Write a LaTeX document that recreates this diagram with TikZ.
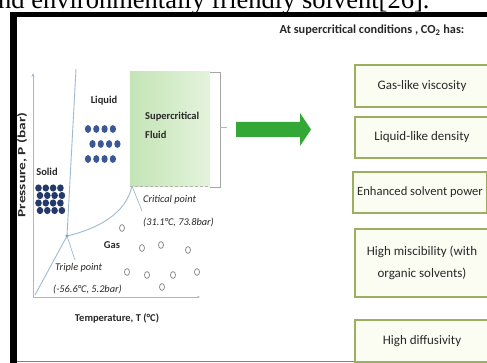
\documentclass[tikz,border=0pt]{standalone}
\usepackage{fontspec}
\setmainfont{Carlito}
\newfontfamily\serifpaper{Liberation Serif}
\usetikzlibrary{arrows.meta}
\definecolor{axiscol}{RGB}{160,186,206}
\definecolor{txt}{RGB}{40,40,40}
\definecolor{liqdot}{RGB}{58,88,150}
\definecolor{soldot}{RGB}{36,56,106}
\definecolor{gascol}{RGB}{140,140,140}
\definecolor{scfL}{RGB}{196,228,182}
\definecolor{scfR}{RGB}{228,243,220}
\definecolor{arrgreen}{RGB}{52,168,54}
\definecolor{boxedge}{RGB}{155,175,95}
\definecolor{boxfill}{RGB}{252,253,242}
\begin{document}
\begin{tikzpicture}[x=1pt,y=-1pt,
  axisline/.style={draw=axiscol, line width=0.9pt},
  lbl/.style={font=\fontsize{10.5}{11}\selectfont\bfseries, text=txt, inner sep=0pt},
  note/.style={font=\fontsize{10.3}{11}\selectfont\itshape, text=txt, inner sep=0pt, anchor=west},
  prop/.style={draw=boxedge, line width=2.2pt, fill=boxfill, minimum width=134pt, text=txt,
    font=\fontsize{13}{22}\selectfont, align=center, inner sep=0pt},
  liq/.style={fill=liqdot, draw=none},
  sol/.style={fill=soldot, draw=none},
  gasc/.style={draw=gascol, line width=0.8pt, fill=white},
  leader/.style={draw=axiscol, line width=0.7pt}]
\clip (0,0) rectangle (487,363);
\fill[white] (0,0) rectangle (487,363);
% paper text above the figure
\node[anchor=base west, inner sep=0pt, font=\serifpaper\fontsize{26.5}{27}\selectfont] (paper) at (-2,9) {nd environmentally friendly solvent[26].};
% frame
\fill[black] (10,12) rectangle (487,17.5);
\fill[black] (9.5,12) rectangle (17.3,363);
\draw[gray, line width=1.2pt] (17,361.7) -- (487,361.7);
% header
\node[font=\fontsize{12.3}{13}\selectfont\bfseries, text=txt, inner sep=0pt] (head) at (372,30) {At supercritical conditions , CO\textsubscript{2} has:};
% supercritical region
\shade[left color=scfL, right color=scfR] (130,72) rectangle (210,187);
\draw[gray!60, densely dashed, line width=0.5pt] (130,186.5) -- (210,186.5);
\draw[gray!70, line width=0.6pt] (210,72) -- (220,72) -- (220,187) -- (210,187);
\draw[axiscol, line width=0.6pt] (220,127) -- (227,127);
\node[lbl, anchor=west] (scf1) at (145,117) {Supercritical};
\node[lbl, anchor=west] (scf2) at (145,135) {Fluid};
% axes
\coordinate (o) at (33,297);
\draw[axisline, -{Stealth[length=4pt]}] (o) -- (33,73);
\draw[axisline, -{Stealth[length=3pt]}] (o) -- (200,297);
\node[lbl, rotate=90, font=\fontsize{11}{12}\selectfont\bfseries] (ylab) at (22,165) {\scalebox{1.4}[1]{Pressure, P (bar)}};
\node[lbl] (xlab) at (117,318) {Temperature, T (°C)};
% phase lines
\coordinate (tp) at (67,236);
\coordinate (cp) at (132,186);
\draw[axisline] (tp) -- (76,69);
\draw[axisline] (tp) .. controls (97,229) and (126,214) .. (cp);
\draw[axisline] (tp) -- (35,295);
\fill[axiscol!80!blue] (tp) circle (1.6);
\draw[leader] (tp) -- (75,260);
\draw[leader] (cp) -- (142,211);
% labels
\node[lbl] (liquid) at (104,101) {Liquid};
\node[lbl] (solid) at (47,172) {Solid};
\node[lbl] (gas) at (112,245) {Gas};
\node[note] (cpl1) at (143,200) {Critical point};
\node[note] (cpl2) at (143,222) {(31.1°C, 73.8bar)};
\node[note] (tpl1) at (55,268) {Triple point};
\node[note] (tpl2) at (53,289) {(-56.6°C, 5.2bar)};
% liquid molecules
\foreach \x in {88,96.3,104.6,112.9} {\fill[liq] (\x,129) ellipse (3.1 and 3.9); \fill[liq] (\x,159) ellipse (3.1 and 3.9);}
\foreach \x in {92.5,100.8,109.1,117.4} {\fill[liq] (\x,144) ellipse (3.1 and 3.9);}
% solid molecules
\foreach \y/\s in {188/0,195.5/1.5,203/0,210.5/1.5} {
  \foreach \x in {38.5,45.8,53.1,60.4} {\fill[sol] (\x+\s,\y) ellipse (3.3 and 3.6);}}
% gas molecules
\foreach \x/\y in {122/228,142/248,161/245,188/250,127/272,147/275,162/287,173/275,197/272}
  {\draw[gasc] (\x,\y) ellipse (2.5 and 3.4);}
% green arrow
\fill[arrgreen] (236,122) -- (300,122) -- (300,113) -- (311,129.5) -- (300,146) -- (300,137) -- (236,137) -- cycle;
% property boxes
\node[prop, minimum height=42pt] (b1) at (422,86) {Gas-like viscosity};
\node[prop, minimum height=41pt] (b2) at (422,137.5) {Liquid-like density};
\node[prop, minimum height=41pt] (b3) at (420,192.5) {\fontsize{12.6}{14}\selectfont Enhanced solvent power};
\node[prop, minimum height=68pt] (b4) at (422,263) {High miscibility (with\\organic solvents)};
\node[prop, minimum height=42pt] (b5) at (422,341) {High diffusivity};
\end{tikzpicture}
\end{document}
